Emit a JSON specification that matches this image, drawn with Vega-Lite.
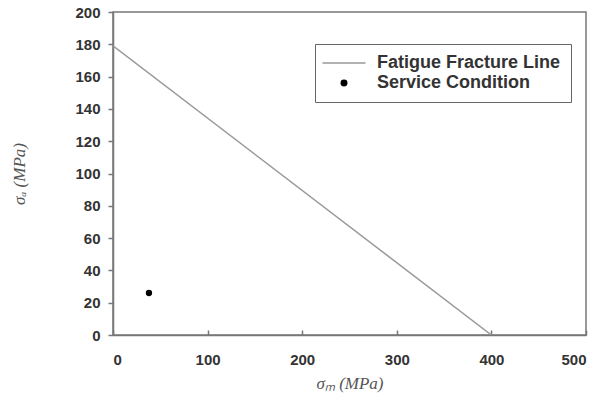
{
  "$schema": "https://vega.github.io/schema/vega-lite/v6.json",
  "width": 473,
  "height": 323,
  "autosize": {"type": "none"},
  "padding": {"left": 113, "top": 12, "right": 15, "bottom": 60},
  "background": "white",
  "config": {
    "view": {"stroke": "#777", "strokeWidth": 1.5},
    "axis": {
      "labelFont": "Liberation Sans",
      "labelFontWeight": "bold",
      "labelFontSize": 15,
      "labelColor": "#333",
      "labelOverlap": false,
      "domainColor": "#777",
      "domainWidth": 1.5,
      "tickColor": "#777",
      "tickWidth": 1.5,
      "tickSize": 5,
      "grid": false,
      "titleFont": "Liberation Serif",
      "titleFontStyle": "italic",
      "titleFontWeight": "normal",
      "titleFontSize": 17,
      "titleColor": "#555"
    }
  },
  "datasets": {
    "line": [
      {"sm": 0, "sa": 179, "series": "Fatigue Fracture Line"},
      {"sm": 400, "sa": 0, "series": "Fatigue Fracture Line"}
    ],
    "pts": [
      {"sm": 38, "sa": 26, "series": "Service Condition"}
    ]
  },
  "encoding": {
    "x": {"field": "sm", "type": "quantitative", "scale": {"domain": [0, 500], "nice": false}, "axis": {"tickCount": 5, "tickSize": -5, "title": "σₘ (MPa)", "labelPadding": 22, "titlePadding": 8}},
    "y": {"field": "sa", "type": "quantitative", "scale": {"domain": [0, 200], "nice": false}, "axis": {"tickCount": 10, "tickMinStep": 20, "labelOverlap": false, "labelFlush": false, "title": "σₐ (MPa)", "labelPadding": 8, "titlePadding": 46}}
  },
  "layer": [
    {
      "data": {"name": "line"},
      "mark": {"type": "line", "strokeWidth": 1.5, "clip": true},
      "encoding": {
        "color": {
          "field": "series",
          "type": "nominal",
          "scale": {"domain": ["Fatigue Fracture Line", "Service Condition"], "range": ["#999999", "#000000"]},
          "legend": {
            "title": null,
            "orient": "none",
            "legendX": 202,
            "legendY": 32,
            "strokeColor": "#666",
            "fillColor": "white",
            "padding": 10,
            "rowPadding": 2,
            "labelFont": "Liberation Sans",
            "labelFontWeight": "bold",
            "labelFontSize": 18,
            "labelColor": "#333",
            "labelLimit": 400,
            "labelOffset": 24,
            "symbolSize": 1849,
            "symbolOffset": 10,
            "encode": {
              "symbols": {
                "update": {
                  "shape": {"signal": "datum.value == 'Fatigue Fracture Line' ? 'stroke' : 'circle'"},
                  "size": {"signal": "datum.value == 'Fatigue Fracture Line' ? 1849 : 30"},
                  "stroke": {"signal": "datum.value == 'Fatigue Fracture Line' ? '#555' : null"},
                  "fill": {"signal": "datum.value == 'Fatigue Fracture Line' ? null : '#000'"},
                  "strokeWidth": {"value": 1.5}
                }
              }
            }
          }
        }
      }
    },
    {
      "data": {"name": "pts"},
      "mark": {"type": "point", "filled": true, "size": 40, "opacity": 1},
      "encoding": {
        "color": {"field": "series", "type": "nominal"}
      }
    }
  ]
}
